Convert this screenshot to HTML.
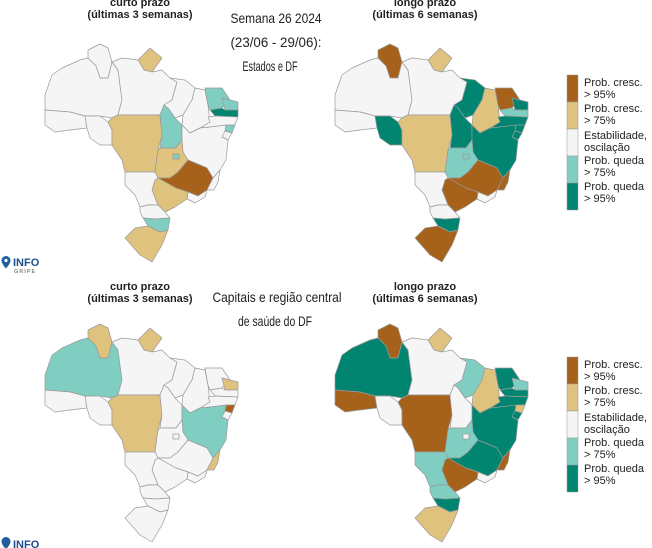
<!DOCTYPE html>
<html><head><meta charset="utf-8"><style>
html,body{margin:0;padding:0;background:#fff;}
svg{display:block}
.t{font-family:"Liberation Sans",sans-serif;font-weight:bold;font-size:11px;fill:#222;text-anchor:middle}
.c{font-family:"Liberation Sans Narrow","Liberation Sans",sans-serif;font-size:14px;fill:#222;text-anchor:middle}
.l{font-family:"Liberation Sans",sans-serif;font-size:11px;fill:#222}
.m polygon,.m use{stroke:#9a9a9a;stroke-width:0.7;stroke-linejoin:round}
</style></head><body>
<svg width="652" height="548" viewBox="0 0 652 548" xmlns="http://www.w3.org/2000/svg">
<defs>
<polygon id="RR" points="88,50 100,44 108,48 112,62 108,78 100,78 96,66 88,58"/>
<polygon id="AP" points="138,60 150,48 162,58 152,72 144,70"/>
<polygon id="AM" points="45,95 52,75 62,68 80,60 88,58 96,66 100,78 108,78 112,62 118,70 122,100 118,115 112,118 100,116 85,116 70,112 45,110"/>
<polygon id="AC" points="45,110 70,112 85,116 87,128 70,130 55,132 45,125"/>
<polygon id="RO" points="85,116 100,116 108,122 112,130 112,145 100,145 90,138 87,128"/>
<polygon id="PA" points="112,62 122,58 138,60 144,70 152,72 162,70 170,78 177,82 172,100 164,105 160,115 118,115 122,100 118,70"/>
<polygon id="MT" points="108,122 112,118 118,115 160,115 162,135 158,150 155,172 140,172 125,172 122,160 112,145 112,130"/>
<polygon id="MA" points="170,78 185,80 195,88 192,100 183,115 175,118 168,108 164,105 172,100 177,82"/>
<polygon id="TO" points="164,105 168,108 175,118 182,125 182,140 176,148 160,148 162,135 160,115"/>
<polygon id="PI" points="195,88 205,90 208,105 210,122 200,128 190,133 182,125 183,115 192,100"/>
<polygon id="CE" points="205,88 222,88 230,100 222,108 210,110 208,105"/>
<polygon id="RN" points="222,98 230,100 238,102 238,110 225,110"/>
<polygon id="PB" points="210,110 222,108 225,110 238,110 238,117 215,116"/>
<polygon id="PE" points="208,117 215,116 238,117 235,125 210,127 200,128 210,122"/>
<polygon id="AL" points="226,125 235,125 232,133 225,131"/>
<polygon id="SE" points="222,131 225,131 232,133 228,140 222,137"/>
<polygon id="BA" points="182,125 190,133 200,128 210,127 226,125 225,131 222,137 228,140 226,160 220,170 213,178 207,168 200,165 188,160 183,152 182,140"/>
<polygon id="GO" points="160,148 176,148 182,140 183,152 188,160 178,172 170,178 158,178 155,172 158,150"/>
<polygon id="DF" points="173,154 179,154 179,159 173,159"/>
<polygon id="MG" points="178,172 188,160 200,165 207,168 213,178 207,190 198,196 188,192 176,188 158,178 170,178"/>
<polygon id="ES" points="213,178 220,170 218,182 214,190 207,190"/>
<polygon id="RJ" points="188,192 198,196 207,190 205,197 195,203 187,199"/>
<polygon id="SP" points="158,178 176,188 188,192 187,199 175,207 165,212 158,205 152,190 155,180"/>
<polygon id="MS" points="125,172 140,172 155,172 158,178 155,180 152,190 158,205 148,205 140,207 135,195 125,185"/>
<polygon id="PR" points="140,207 148,205 158,205 165,212 170,218 155,219 143,218 140,212"/>
<polygon id="SC" points="143,218 155,219 170,218 168,230 160,232 148,226"/>
<polygon id="RS" points="148,226 160,232 168,230 162,245 152,262 140,255 125,238 135,228"/>
</defs>

<g class="m" fill="#f5f5f5">
<use href="#RR"/><use href="#AP" fill="#dfc27d"/><use href="#AM"/><use href="#AC"/><use href="#RO"/><use href="#PA"/>
<use href="#MT" fill="#dfc27d"/><use href="#MA"/><use href="#TO" fill="#80cdc1"/><use href="#PI"/><use href="#CE" fill="#80cdc1"/>
<use href="#RN" fill="#80cdc1"/><use href="#PB" fill="#018571"/><use href="#PE"/><use href="#AL" fill="#80cdc1"/><use href="#SE"/>
<use href="#BA"/><use href="#GO" fill="#dfc27d"/><use href="#DF" fill="#80cdc1"/><use href="#MG" fill="#a6611a"/><use href="#ES"/>
<use href="#RJ"/><use href="#SP" fill="#dfc27d"/><use href="#MS"/><use href="#PR"/><use href="#SC" fill="#80cdc1"/><use href="#RS" fill="#dfc27d"/>
</g>
<g class="m" fill="#f5f5f5" transform="translate(290,0)">
<use href="#RR" fill="#a6611a"/><use href="#AP" fill="#dfc27d"/><use href="#AM"/><use href="#AC"/><use href="#RO" fill="#018571"/><use href="#PA"/>
<use href="#MT" fill="#dfc27d"/><use href="#MA" fill="#018571"/><use href="#TO" fill="#018571"/><use href="#PI" fill="#dfc27d"/><use href="#CE" fill="#a6611a"/>
<use href="#RN" fill="#018571"/><use href="#PB" fill="#80cdc1"/><use href="#PE" fill="#018571"/><use href="#AL" fill="#018571"/><use href="#SE" fill="#018571"/>
<use href="#BA" fill="#018571"/><use href="#GO" fill="#80cdc1"/><use href="#DF" fill="#80cdc1"/><use href="#MG" fill="#a6611a"/><use href="#ES" fill="#a6611a"/>
<use href="#RJ"/><use href="#SP" fill="#a6611a"/><use href="#MS"/><use href="#PR"/><use href="#SC" fill="#018571"/><use href="#RS" fill="#a6611a"/>
</g>
<g class="m" fill="#f5f5f5" transform="translate(0,280)">
<use href="#RR" fill="#dfc27d"/><use href="#AP" fill="#dfc27d"/><use href="#AM" fill="#80cdc1"/><use href="#AC"/><use href="#RO"/><use href="#PA"/>
<use href="#MT" fill="#dfc27d"/><use href="#MA"/><use href="#TO"/><use href="#PI"/><use href="#CE"/>
<use href="#RN" fill="#dfc27d"/><use href="#PB"/><use href="#PE"/><use href="#AL" fill="#a6611a"/><use href="#SE"/>
<use href="#BA" fill="#80cdc1"/><use href="#GO"/><use href="#DF"/><use href="#MG"/><use href="#ES" fill="#dfc27d"/>
<use href="#RJ"/><use href="#SP"/><use href="#MS"/><use href="#PR"/><use href="#SC"/><use href="#RS"/>
</g>
<g class="m" fill="#f5f5f5" transform="translate(290,280)">
<use href="#RR" fill="#a6611a"/><use href="#AP" fill="#dfc27d"/><use href="#AM" fill="#018571"/><use href="#AC" fill="#a6611a"/><use href="#RO"/><use href="#PA"/>
<use href="#MT" fill="#a6611a"/><use href="#MA" fill="#80cdc1"/><use href="#TO"/><use href="#PI" fill="#dfc27d"/><use href="#CE" fill="#018571"/>
<use href="#RN" fill="#80cdc1"/><use href="#PB" fill="#018571"/><use href="#PE" fill="#018571"/><use href="#AL" fill="#dfc27d"/><use href="#SE" fill="#018571"/>
<use href="#BA" fill="#018571"/><use href="#GO" fill="#80cdc1"/><use href="#DF"/><use href="#MG" fill="#018571"/><use href="#ES" fill="#a6611a"/>
<use href="#RJ"/><use href="#SP" fill="#a6611a"/><use href="#MS" fill="#80cdc1"/><use href="#PR" fill="#80cdc1"/><use href="#SC" fill="#018571"/><use href="#RS" fill="#dfc27d"/>
</g>

<text class="t" x="140" y="6">curto prazo</text>
<text class="t" x="140" y="18">(últimas 3 semanas)</text>
<text class="t" x="425" y="6">longo prazo</text>
<text class="t" x="425" y="18">(últimas 6 semanas)</text>
<text class="c" x="276" y="23" textLength="91" lengthAdjust="spacingAndGlyphs">Semana 26 2024</text>
<text class="c" x="276" y="47" textLength="91" lengthAdjust="spacingAndGlyphs">(23/06 - 29/06):</text>
<text class="c" x="270" y="71" textLength="55" lengthAdjust="spacingAndGlyphs">Estados e DF</text>

<text class="t" x="140" y="290">curto prazo</text>
<text class="t" x="140" y="302">(últimas 3 semanas)</text>
<text class="t" x="425" y="290">longo prazo</text>
<text class="t" x="425" y="302">(últimas 6 semanas)</text>
<text class="c" x="277" y="302" textLength="129" lengthAdjust="spacingAndGlyphs">Capitais e região central</text>
<text class="c" x="275" y="326" textLength="74" lengthAdjust="spacingAndGlyphs">de saúde do DF</text>

<g>
<path d="M6,256 a4.5,4.5 0 0 1 4.5,4.5 c0,3 -4.5,8 -4.5,8 c0,0 -4.5,-5 -4.5,-8 a4.5,4.5 0 0 1 4.5,-4.5z" fill="#1f5e9e"/>
<circle cx="6" cy="260.5" r="1.6" fill="#fff"/>
<text x="13" y="266" font-family="Liberation Sans,sans-serif" font-weight="bold" font-size="11" fill="#1f4e8c">INFO</text>
<text x="14" y="273" font-family="Liberation Sans,sans-serif" font-weight="bold" font-size="5.5" fill="#888" letter-spacing="1">GRIPE</text>
</g>
<g>
<path d="M6,537 a4.5,4.5 0 0 1 4.5,4.5 c0,3 -4.5,8 -4.5,8 c0,0 -4.5,-5 -4.5,-8 a4.5,4.5 0 0 1 4.5,-4.5z" fill="#1f5e9e"/>
<text x="13" y="548" font-family="Liberation Sans,sans-serif" font-weight="bold" font-size="11" fill="#1f4e8c">INFO</text>
</g>

<g>
<rect x="567" y="75" width="11" height="27" fill="#a6611a" stroke="#999" stroke-width="0.5"/>
<rect x="567" y="102" width="11" height="27" fill="#dfc27d" stroke="#999" stroke-width="0.5"/>
<rect x="567" y="129" width="11" height="27" fill="#f5f5f5" stroke="#999" stroke-width="0.5"/>
<rect x="567" y="156" width="11" height="27" fill="#80cdc1" stroke="#999" stroke-width="0.5"/>
<rect x="567" y="183" width="11" height="27" fill="#018571" stroke="#999" stroke-width="0.5"/>
<text class="l" x="584" y="86">Prob. cresc.</text><text class="l" x="584" y="98">&gt; 95%</text>
<text class="l" x="584" y="112">Prob. cresc.</text><text class="l" x="584" y="124">&gt; 75%</text>
<text class="l" x="584" y="139">Estabilidade,</text><text class="l" x="584" y="151">oscilação</text>
<text class="l" x="584" y="164">Prob. queda</text><text class="l" x="584" y="176">&gt; 75%</text>
<text class="l" x="584" y="190">Prob. queda</text><text class="l" x="584" y="202">&gt; 95%</text>
</g>
<g transform="translate(0,282)">
<rect x="567" y="75" width="11" height="27" fill="#a6611a" stroke="#999" stroke-width="0.5"/>
<rect x="567" y="102" width="11" height="27" fill="#dfc27d" stroke="#999" stroke-width="0.5"/>
<rect x="567" y="129" width="11" height="27" fill="#f5f5f5" stroke="#999" stroke-width="0.5"/>
<rect x="567" y="156" width="11" height="27" fill="#80cdc1" stroke="#999" stroke-width="0.5"/>
<rect x="567" y="183" width="11" height="27" fill="#018571" stroke="#999" stroke-width="0.5"/>
<text class="l" x="584" y="86">Prob. cresc.</text><text class="l" x="584" y="98">&gt; 95%</text>
<text class="l" x="584" y="112">Prob. cresc.</text><text class="l" x="584" y="124">&gt; 75%</text>
<text class="l" x="584" y="139">Estabilidade,</text><text class="l" x="584" y="151">oscilação</text>
<text class="l" x="584" y="164">Prob. queda</text><text class="l" x="584" y="176">&gt; 75%</text>
<text class="l" x="584" y="190">Prob. queda</text><text class="l" x="584" y="202">&gt; 95%</text>
</g>
</svg>
</body></html>
